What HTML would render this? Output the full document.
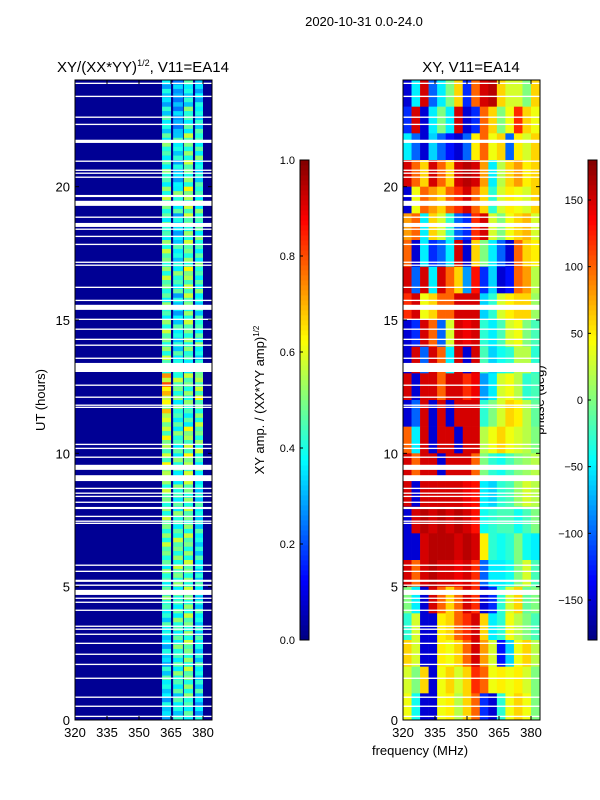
<!DOCTYPE html>
<html><head><meta charset="utf-8">
<style>
html,body{margin:0;padding:0;background:#fff;}
svg{display:block;font-family:"Liberation Sans","DejaVu Sans",sans-serif;}
</style></head>
<body>
<svg id="fig" width="600" height="800" viewBox="0 0 600 800" xmlns="http://www.w3.org/2000/svg">
<rect x="0" y="0" width="600" height="800" fill="#fff"/>
<text x="364" y="26" font-size="13" text-anchor="middle">2020-10-31 0.0-24.0</text>
<text x="143" y="72" font-size="15" text-anchor="middle">XY/(XX*YY)<tspan font-size="9" dy="-6">1/2</tspan><tspan dy="6">, V11=EA14</tspan></text>
<text x="471" y="72" font-size="15" text-anchor="middle">XY, V11=EA14</text>
<text transform="translate(45,400) rotate(-90)" font-size="13" text-anchor="middle">UT (hours)</text>
<text transform="translate(264,400) rotate(-90)" font-size="13" text-anchor="middle">XY amp. / (XX*YY amp)<tspan font-size="8" dy="-5">1/2</tspan></text>
<text transform="translate(544,400) rotate(-90)" font-size="13" text-anchor="middle">phase (deg)</text>
<text x="420" y="755" font-size="13" text-anchor="middle">frequency (MHz)</text>
<g id="left"></g>
<g id="right"></g>
<g id="cb1"></g>
<g id="cb2"></g>
</svg>
<script>
// ---- data ----
const xTicks = [320, 335, 350, 365, 380];
const yTicks = [0, 5, 10, 15, 20];
const ampTicks = [0.0, 0.2, 0.4, 0.6, 0.8, 1.0];
const phaseTicks = [-150, -100, -50, 0, 50, 100, 150];
const stripeStart = [360.8, 366, 371, 376.3];
const stripeEnd = [365, 370.6, 375.3, 380];
const ampBackground = 0.02;
const ampRows = [
[0.35,0.30,0.40,0.35],[0.40,0.30,0.45,0.40],[0.45,0.40,0.50,0.45],[0.45,0.35,0.50,0.40],
[0.50,0.45,0.55,0.45],[0.45,0.35,0.50,0.45],[0.50,0.40,0.50,0.45],[0.50,0.45,0.55,0.45],
[0.45,0.35,0.50,0.40],[0.50,0.40,0.50,0.45],[0.50,0.40,0.45,0.40],[0.70,0.50,0.50,0.55],
[0.60,0.45,0.45,0.50],[0.55,0.45,0.55,0.50],[0.55,0.45,0.55,0.45],[0.50,0.45,0.50,0.40],
[0.50,0.45,0.50,0.40],[0.50,0.50,0.50,0.40],[0.45,0.50,0.50,0.40],[0.45,0.45,0.50,0.40],
[0.40,0.45,0.50,0.40],[0.35,0.45,0.50,0.40],[0.40,0.45,0.50,0.40],[0.35,0.40,0.45,0.35]
];
const phaseRows = [
[-150,-50,150,-100,-50,0,60,-120,100,150,160,60,30,30,0,60],
[-120,150,-150,-50,0,-50,150,-150,-120,100,60,0,40,120,60,40],
[-50,-100,-150,-60,-100,-130,-150,-100,50,100,40,60,-100,50,30,60],
[150,100,60,150,100,60,150,160,150,80,-50,20,60,80,50,60],
[-150,40,100,80,60,100,120,150,100,60,-30,30,50,40,30,60],
[80,100,-50,60,30,-30,-100,-120,120,150,30,0,40,60,70,30],
[100,-150,-50,-120,-100,-50,150,-150,60,0,-50,-100,-150,100,60,50],
[150,-100,150,-50,150,100,60,-80,130,-120,-60,-150,-130,100,80,20],
[120,150,40,60,100,100,150,150,150,-60,-30,30,50,60,60,10],
[-150,-120,150,100,-100,30,150,140,150,-30,-50,-20,30,40,0,-20],
[-150,150,-100,150,100,-50,150,-150,150,-20,-60,-40,-30,20,20,-30],
[150,-150,150,150,100,150,150,120,140,-80,-50,30,40,20,-30,-20],
[-150,-100,150,-150,150,-150,150,150,150,-30,0,30,60,50,20,-10],
[100,-50,150,-150,150,150,-150,150,150,20,40,60,40,30,20,0],
[150,100,150,150,-150,150,150,150,100,0,-30,-40,-20,0,10,20],
[150,-150,150,150,150,150,150,140,130,-50,-60,-30,-20,10,30,20],
[-150,150,160,150,160,150,160,150,130,-40,-30,-20,-20,-40,-20,0],
[-150,-150,150,160,160,160,150,160,150,50,-30,-40,-30,0,-40,-50],
[150,100,150,160,150,150,140,150,120,-100,-50,-50,-40,0,30,-20],
[0,-50,-150,150,100,60,100,150,120,-150,-120,-30,30,60,-10,0],
[-30,30,-150,-150,50,60,100,120,150,60,-50,-30,40,20,0,-20],
[60,30,-150,-150,50,40,60,100,150,80,30,-130,-60,40,60,20],
[30,0,60,-150,40,60,30,60,120,100,40,50,40,50,30,0],
[40,-40,-150,-150,40,50,20,60,100,-120,-150,-30,40,60,40,0]
];
const gapStart = [23.85,23.36,22.58,22.31,21.64,20.93,20.59,20.48,20.33,19.61,19.28,18.83,18.49,18.38,18.11,17.81,17.14,17.03,16.2,15.71,15.38,15.0,14.63,14.25,14.03,13.54,13.05,12.53,12.08,11.78,11.7,10.31,10.16,9.83,9.38,8.96,8.66,8.48,8.36,8.14,7.91,7.61,7.43,7.35,5.78,5.55,5.18,5.03,4.69,4.54,4.39,4.09,3.49,3.38,3.19,2.85,2.44,2.06,1.54,0.83,0.49,0.11];
const gapDur = [0.05,0.05,0.05,0.05,0.12,0.05,0.05,0.05,0.05,0.08,0.19,0.05,0.15,0.05,0.05,0.05,0.05,0.05,0.05,0.05,0.19,0.05,0.05,0.05,0.05,0.05,0.34,0.05,0.05,0.05,0.05,0.05,0.05,0.05,0.19,0.22,0.05,0.05,0.05,0.05,0.08,0.05,0.05,0.05,0.05,0.05,0.08,0.05,0.19,0.05,0.05,0.05,0.05,0.05,0.05,0.05,0.05,0.05,0.05,0.05,0.05,0.05];
const streak = [1.05,0.8,1.15,0.9,1.0,0.8];

// ---- helpers ----
const NS = "http://www.w3.org/2000/svg";
function mk(tag, attrs, parent){ const e=document.createElementNS(NS,tag); for(const k in attrs) e.setAttribute(k,attrs[k]); parent.appendChild(e); return e; }
function jet(v){ v=Math.max(0,Math.min(1,v));
  const r=Math.max(0,Math.min(1,1.5-Math.abs(4*v-3))), g=Math.max(0,Math.min(1,1.5-Math.abs(4*v-2))), b=Math.max(0,Math.min(1,1.5-Math.abs(4*v-1)));
  return `rgb(${Math.round(r*255)},${Math.round(g*255)},${Math.round(b*255)})`; }
const Y0=720, Y1=80, HMAX=24;
const yScale = h => Y0 - (h/HMAX)*(Y0-Y1);
function xScaleFor(left){ return f => left + (f-320)*(128/60); }
const FMAX = 320 + 137*60/128;

function axes(g, left, right, xs, name){
  const fr = mk('rect',{x:left,y:Y1,width:right-left,height:Y0-Y1,fill:'none',stroke:'#000','stroke-width':1},g);
   
  xTicks.forEach(t=>{ const x=xs(t);
    mk('line',{x1:x,y1:Y0,x2:x,y2:Y0-4,stroke:'#000'},g); mk('line',{x1:x,y1:Y1,x2:x,y2:Y1+4,stroke:'#000'},g);
    const tx=mk('text',{x:x,y:Y0+17,'font-size':13,'text-anchor':'middle'},g); tx.textContent=t;
      });
  yTicks.forEach(t=>{ const y=yScale(t);
    mk('line',{x1:left,y1:y,x2:left+4,y2:y,stroke:'#000'},g); mk('line',{x1:right,y1:y,x2:right-4,y2:y,stroke:'#000'},g);
    const tx=mk('text',{x:left-5,y:y+5,'font-size':13,'text-anchor':'end'},g); tx.textContent=t;
      });
}
function gaps(g,left,right){
  gapStart.forEach((s,i)=>{ const y1=yScale(s+gapDur[i]), y2=yScale(s);
    const r=mk('rect',{x:left,y:y1,width:right-left,height:Math.max(1.2,y2-y1),fill:'#fff'},g);
      });
}

(function(){
  const g=document.getElementById('left'); const L=75,R=212, xs=xScaleFor(L);
  mk('rect',{x:L,y:Y1,width:R-L,height:Y0-Y1,fill:jet(ampBackground)},g);
  const nSub=streak.length;
  ampRows.forEach((row,ri)=>{ const hTop=HMAX-ri;
    for(let s=0;s<nSub;s++){ const h1=hTop-s/nSub, h0=hTop-(s+1)/nSub;
      row.forEach((v,ci)=>{ const x0=xs(stripeStart[ci]), x1=xs(stripeEnd[ci]);
        const r=mk('rect',{x:x0,y:yScale(h1),width:x1-x0,height:yScale(h0)-yScale(h1)+0.3,fill:jet(v*streak[(s+ci)%nSub])},g);
          }); } });
  gaps(g,L,R); axes(g,L,R,xs,'amp-panel');
})();

(function(){
  const g=document.getElementById('right'); const L=403,R=540, xs=xScaleFor(L);
  phaseRows.forEach((row,ri)=>{ const hTop=HMAX-ri;
    row.forEach((v,ci)=>{ const f0=320+ci*4, f1=Math.min(FMAX,f0+4);
      const x0=xs(f0), x1=xs(f1);
      const r=mk('rect',{x:x0,y:yScale(hTop),width:x1-x0+0.3,height:yScale(hTop-1)-yScale(hTop)+0.3,fill:jet((v+180)/360)},g);
        }); });
  gaps(g,L,R); axes(g,L,R,xs,'phase-panel');
})();

function colorbar(id, x, lo, hi, ticks, fmt, name){
  const g=document.getElementById(id); const top=160, bot=640, n=96;
  for(let i=0;i<n;i++){ const y=bot-(i+1)*(bot-top)/n;
    mk('rect',{x:x,y:y,width:9,height:(bot-top)/n+0.4,fill:jet((i+0.5)/n)},g); }
  mk('rect',{x:x,y:top,width:9,height:bot-top,fill:'none',stroke:'#000','stroke-width':1},g);
  ticks.forEach(t=>{ const y=bot-(t-lo)/(hi-lo)*(bot-top);
    mk('line',{x1:x,y1:y,x2:x+3,y2:y,stroke:'#000'},g);
    const tx=mk('text',{x:x-5,y:y+4,'font-size':11,'text-anchor':'end'},g); tx.textContent=fmt(t);
      });
}
colorbar('cb1',300,0,1,ampTicks,t=>t.toFixed(1),'amp-colorbar');
colorbar('cb2',588,-180,180,phaseTicks,t=>(t<0?'\u2212'+(-t):''+t),'phase-colorbar');
</script>
</body></html>
